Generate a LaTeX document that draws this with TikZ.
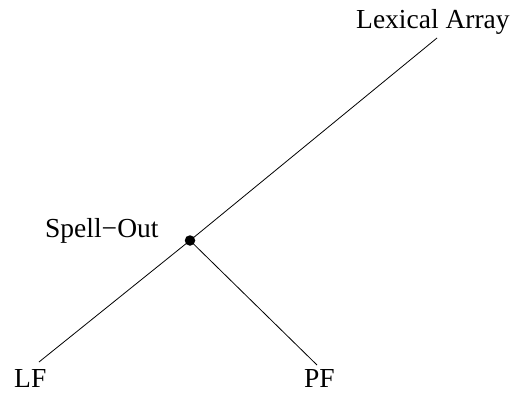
\documentclass[tikz,border=0pt]{standalone}
\usepackage{fontspec}
\setmainfont{Liberation Serif}
\begin{document}
\begin{tikzpicture}[x=1pt,y=1pt,
  lbl/.style={inner sep=0pt,anchor=base west,font=\fontsize{27.5}{33}\selectfont},
  branch/.style={line width=0.8pt}]
\useasboundingbox (0,0) rectangle (515,392);
\node[lbl] (lex) at (356,363) {Lexical Array};
\node[lbl] (spell) at (45,154.5) {Spell−Out};
\node[lbl] (lf) at (14,5) {LF};
\node[lbl] (pf) at (304,5) {PF};
\node[circle,fill=black,inner sep=0pt,minimum size=10.5pt] (dot) at (190,151.5) {};
\coordinate (top) at (437,354);
\coordinate (lfend) at (39,30);
\coordinate (pfend) at (317,27);
\draw[branch] (top) -- (dot.center) -- (lfend);
\draw[branch] (dot.center) -- (pfend);
\end{tikzpicture}
\end{document}
